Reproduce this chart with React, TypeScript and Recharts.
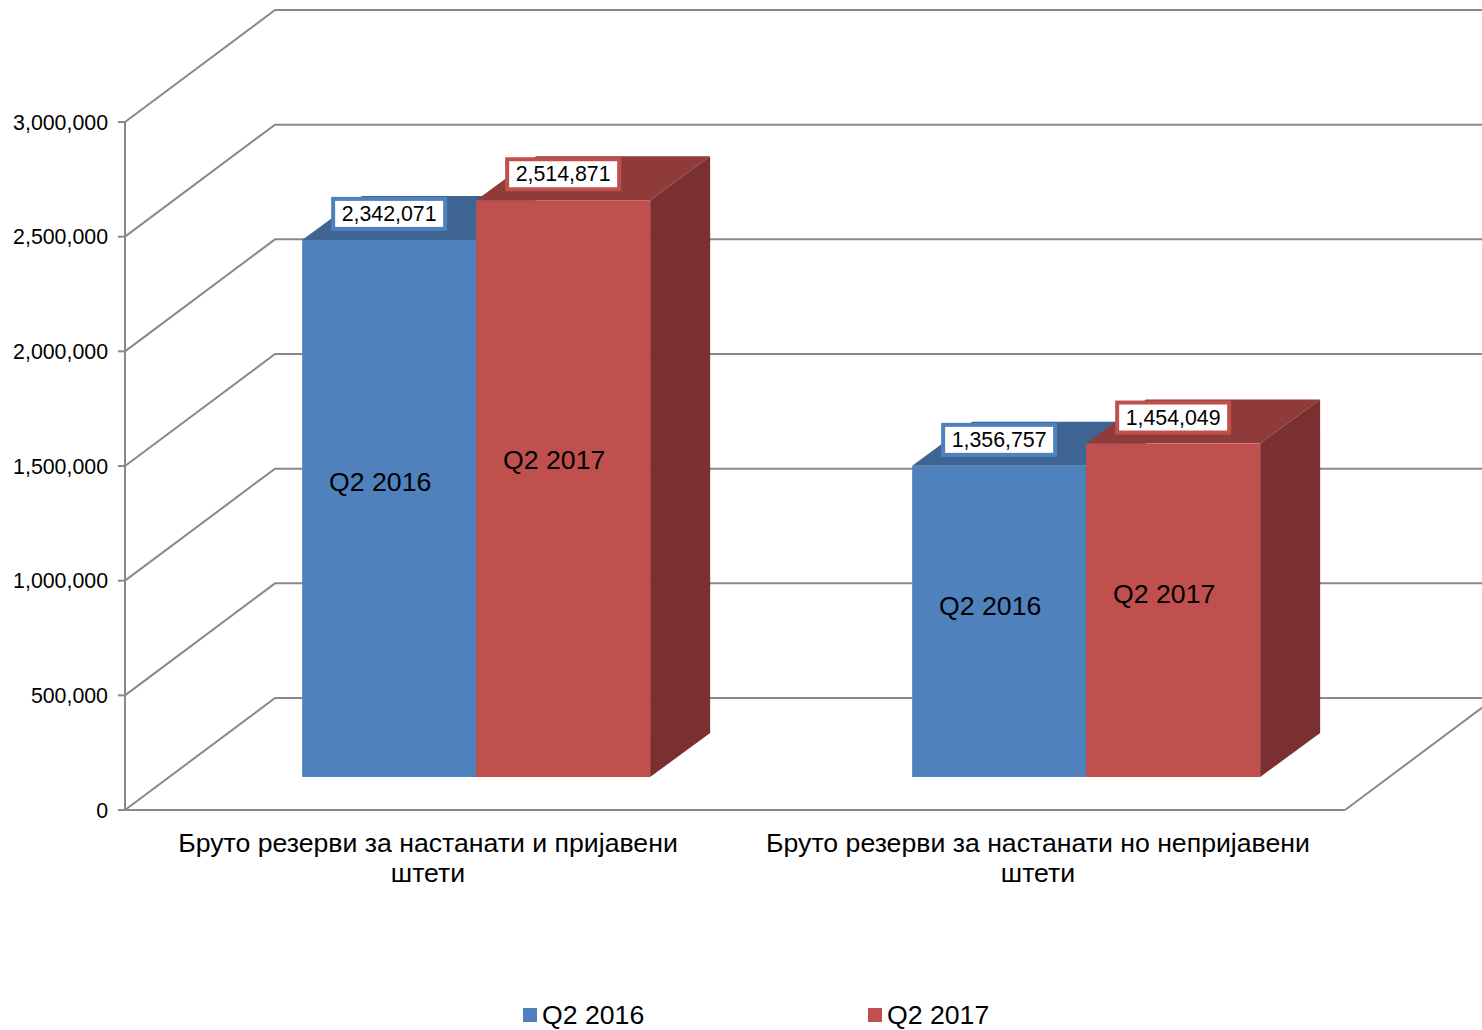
import { BarChart, Bar, XAxis, YAxis, CartesianGrid, Legend, LabelList } from "recharts"

const CATEGORIES = [
  "Бруто резерви за настанати и пријавени штети",
  "Бруто резерви за настанати но непријавени штети",
]
const SERIES = ["Q2 2016", "Q2 2017"]
const Q2_2016 = [2342071, 1356757]
const Q2_2017 = [2514871, 1454049]
const Y_TICKS = [0, 500000, 1000000, 1500000, 2000000, 2500000, 3000000]

const data = CATEGORIES.map((name, i) => ({ name, q2016: Q2_2016[i], q2017: Q2_2017[i] }))

const W = 1482
const H = 1030
const margin = { top: 122, right: 137, bottom: 190, left: 0 }
const PLOT_BOTTOM = 810

// 3d offsets: wall depth, bar shift into the box, bar depth
const WALL_DX = 150
const WALL_DY = 112
const BAR_DX = 46
const BAR_DY = 33
const DEPTH_DX = 60
const DEPTH_DY = 44

const GRID = "#898989"
const BLUE = { front: "#4F81BD", top: "#3D6492", side: "#385D88" }
const RED = { front: "#C0504D", top: "#8F3B39", side: "#7A3030" }
const LEGEND_X = [523, 868]
const BIG = 26.67
const SMALL = 21.33

const fmt = (v: number | string) => Number(v).toLocaleString("en-US")

function gridLine(props: any) {
  const { x1, y1, x2 } = props
  const bx = x1 + WALL_DX
  const by = y1 - WALL_DY
  const floor = Math.abs(y1 - PLOT_BOTTOM) < 1
  return (
    <g key={`hl-${props.index}-${y1}`}>
      <path d={`M${x1},${y1}L${bx},${by}L${W + 20},${by}`} fill="none" stroke={GRID} strokeWidth={2} />
      {floor && (
        <path d={`M${x2},${y1}L${x2 + WALL_DX},${by}`} fill="none" stroke={GRID} strokeWidth={2} />
      )}
    </g>
  )
}

function box3d(c: { front: string; top: string; side: string }) {
  return (props: any) => {
    const { x, y, width, height } = props
    if (!height) return <g />
    const fx = x + BAR_DX
    const fy = y - BAR_DY
    const top = `${fx},${fy} ${fx + DEPTH_DX},${fy - DEPTH_DY} ${fx + width + DEPTH_DX},${fy - DEPTH_DY} ${fx + width},${fy}`
    const side = `${fx + width},${fy} ${fx + width + DEPTH_DX},${fy - DEPTH_DY} ${fx + width + DEPTH_DX},${fy + height - DEPTH_DY} ${fx + width},${fy + height}`
    return (
      <g>
        <polygon points={top} fill={c.top} />
        <polygon points={side} fill={c.side} />
        <rect x={fx} y={fy} width={width} height={height} fill={c.front} />
      </g>
    )
  }
}

function valueLabel(border: string) {
  return (props: any) => {
    const vb = props.viewBox ?? props
    const { x, y, width } = vb
    const cx = x + BAR_DX + width / 2
    const cy = y - BAR_DY - 26
    return (
      <g>
        <rect x={cx - 56} y={cy - 15} width={112} height={30} fill="#fff" stroke={border} strokeWidth={4} />
        <text x={cx} y={cy} textAnchor="middle" dominantBaseline="central" fontSize={SMALL} fill="#000">
          {fmt(props.value)}
        </text>
      </g>
    )
  }
}

function nameLabel(name: string) {
  return (props: any) => {
    const vb = props.viewBox ?? props
    const { x, y, width, height } = vb
    return (
      <text
        x={x + BAR_DX + width / 2 - 9}
        y={y - BAR_DY + height * 0.45}
        textAnchor="middle"
        dominantBaseline="central"
        fontSize={BIG}
        fill="#000"
      >
        {name}
      </text>
    )
  }
}

function CategoryTick(props: any) {
  const { x, payload } = props
  const text = String(payload.value)
  const cut = text.lastIndexOf(" ")
  const lines = [text.slice(0, cut), text.slice(cut + 1)]
  return (
    <g>
      {lines.map((l, i) => (
        <text key={i} x={x - 2} y={PLOT_BOTTOM + 33 + i * 30} textAnchor="middle" dominantBaseline="central" fontSize={BIG} fill="#000">
          {l}
        </text>
      ))}
    </g>
  )
}

function renderLegend(props: any) {
  const items = props.payload ?? []
  return (
    <div style={{ position: "relative", width: W, height: 30 }}>
      {items.map((p: any, i: number) => (
        <div
          key={p.value}
          style={{ position: "absolute", left: LEGEND_X[i], top: 0, height: 30, display: "flex", alignItems: "center" }}
        >
          <span style={{ width: 14, height: 14, background: p.color, marginRight: 5, display: "inline-block" }} />
          <span style={{ fontSize: BIG, color: "#000" }}>{p.value}</span>
        </div>
      ))}
    </div>
  )
}

export default function App() {
  return (
    <div style={{ position: "absolute", left: 0, top: 0, fontFamily: "'Liberation Sans', Arial, sans-serif", background: "#fff" }}>
      <BarChart width={W} height={H} data={data} margin={margin} barCategoryGap="21.5%" barGap={0}>
        <CartesianGrid vertical={false} horizontal={gridLine} />
        <XAxis
          dataKey="name"
          height={30}
          interval={0}
          tickLine={false}
          axisLine={{ stroke: GRID, strokeWidth: 2 }}
          tick={<CategoryTick />}
        />
        <YAxis
          width={125}
          domain={[0, 3000000]}
          ticks={Y_TICKS}
          interval={0}
          tickFormatter={fmt}
          tick={{ fontSize: SMALL, fill: "#000" }}
          tickSize={7}
          tickMargin={10}
          axisLine={{ stroke: GRID, strokeWidth: 2 }}
          tickLine={{ stroke: GRID, strokeWidth: 2 }}
        />
        <Bar dataKey="q2016" name={SERIES[0]} fill={BLUE.front} shape={box3d(BLUE)} isAnimationActive={false}>
          <LabelList dataKey="q2016" content={valueLabel(BLUE.front)} />
          <LabelList dataKey="q2016" content={nameLabel(SERIES[0])} />
        </Bar>
        <Bar dataKey="q2017" name={SERIES[1]} fill={RED.front} shape={box3d(RED)} isAnimationActive={false}>
          <LabelList dataKey="q2017" content={valueLabel(RED.front)} />
          <LabelList dataKey="q2017" content={nameLabel(SERIES[1])} />
        </Bar>
        <Legend
          verticalAlign="middle"
          align="center"
          layout="horizontal"
          wrapperStyle={{ top: 1000, left: 0, width: W, height: 30 }}
          content={renderLegend}
        />
      </BarChart>
    </div>
  )
}
